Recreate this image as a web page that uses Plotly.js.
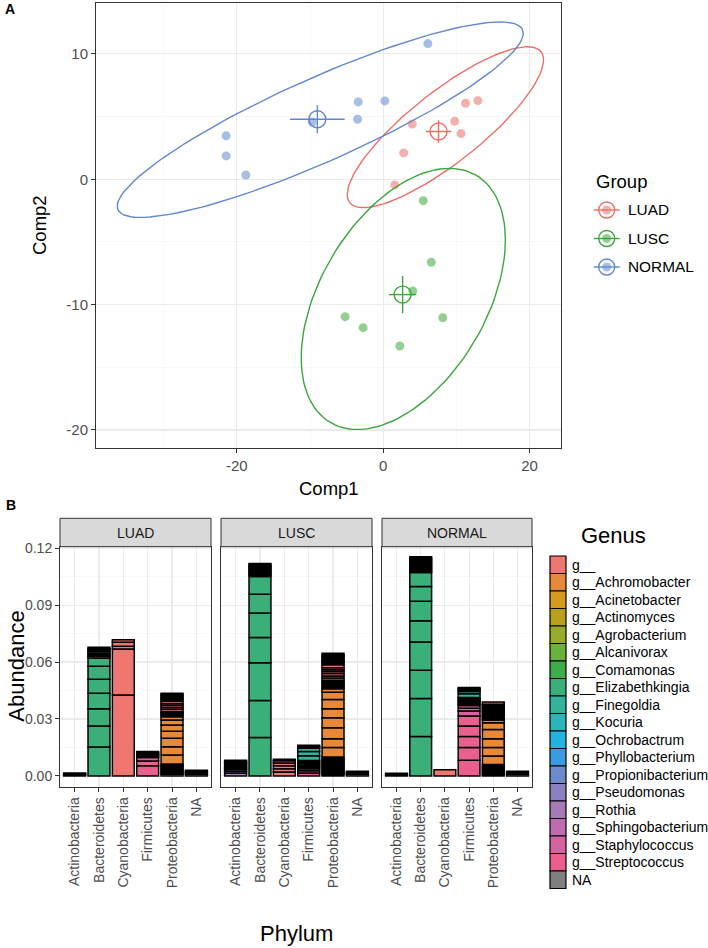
<!DOCTYPE html>
<html><head><meta charset="utf-8">
<script src="https://cdn.plot.ly/plotly-3.0.1.min.js"></script>
<style>html,body{margin:0;padding:0;background:#fff}</style>
</head><body><div id="chart" style="width:708px;height:948px"></div>
<script>
// ---------------- Panel A data ----------------
const groups = ["LUAD", "LUSC", "NORMAL"];
const groupColors = ["#EB6F67", "#3BA73B", "#6089CD"];
const luadComp1 = [11.25, 12.94, 9.77, 10.64, 3.97, 2.8, 1.59];
const luadComp2 = [6.06, 6.27, 4.63, 3.64, 4.41, 2.1, -0.45];
const luscComp1 = [5.47, 6.57, 4.05, -5.2, -2.74, 2.27, 8.15];
const luscComp2 = [-1.71, -6.63, -8.92, -10.96, -11.84, -13.3, -11.05];
const normalComp1 = [-21.46, -21.46, -18.77, -9.7, -3.42, -3.5, 0.22, 6.1];
const normalComp2 = [3.46, 1.86, 0.34, 4.57, 6.17, 4.79, 6.25, 10.82];
// ellipse geometry (centre, x-variance, y-variance, covariance)
const ellCenterX = [8.5, 2.75, -8.6];
const ellCenterY = [4.15, -9.55, 4.75];
const ellVarX = [179.8, 194.6, 770];
const ellVarY = [41.2, 108.5, 60.8];
const ellCovXY = [71.9, 65.6, 191.5];
const compXTicks = [-20, 0, 20];
const compXTickText = ["-20", "0", "20"];
const compYTicks = [-20, -10, 0, 10];
const compYTickText = ["-20", "-10", "0", "10"];

// ---------------- Panel B data ----------------
const facets = ["LUAD", "LUSC", "NORMAL"];
const phyla = ["Actinobacteria", "Bacteroidetes", "Cyanobacteria", "Firmicutes", "Proteobacteria", "NA"];
const genera = ["g__", "g__Achromobacter", "g__Acinetobacter", "g__Actinomyces", "g__Agrobacterium",
  "g__Alcanivorax", "g__Comamonas", "g__Elizabethkingia", "g__Finegoldia", "g__Kocuria",
  "g__Ochrobactrum", "g__Phyllobacterium", "g__Propionibacterium", "g__Pseudomonas", "g__Rothia",
  "g__Sphingobacterium", "g__Staphylococcus", "g__Streptococcus", "NA"];
const genusColors = ["#EE786F", "#E8893A", "#D69A1E", "#BBA01E", "#98AA2A",
  "#6AB23A", "#3EAD48", "#3BAF78", "#33B39C", "#29B5BA",
  "#22B3E0", "#3A9BE0", "#6C8BCB", "#8D80C2", "#A679B9",
  "#BE6CB0", "#D6629F", "#E9608E", "#7F7F7F"];
const abundanceTicks = [0, 0.03, 0.06, 0.09, 0.12];

// segments bottom -> top: [phylum, genus, abundance]
const luadSegments = [
  ["Actinobacteria", "g__Rothia", 0.0006], ["Actinobacteria", "g__Propionibacterium", 0.0005], ["Actinobacteria", "g__Actinomyces", 0.0004],
  ["Bacteroidetes", "g__Elizabethkingia", 0.0152], ["Bacteroidetes", "g__Elizabethkingia", 0.0111], ["Bacteroidetes", "g__Elizabethkingia", 0.0091],
  ["Bacteroidetes", "g__Elizabethkingia", 0.0082], ["Bacteroidetes", "g__Elizabethkingia", 0.0074], ["Bacteroidetes", "g__Elizabethkingia", 0.0068],
  ["Bacteroidetes", "g__Elizabethkingia", 0.0044], ["Bacteroidetes", "g__Elizabethkingia", 0.0009],
  ["Bacteroidetes", "g__Sphingobacterium", 0.0008], ["Bacteroidetes", "g__", 0.0008], ["Bacteroidetes", "g__Elizabethkingia", 0.0008],
  ["Bacteroidetes", "g__Sphingobacterium", 0.0008], ["Bacteroidetes", "NA", 0.0008], ["Bacteroidetes", "g__", 0.0007],
  ["Cyanobacteria", "g__", 0.0426], ["Cyanobacteria", "g__", 0.0243], ["Cyanobacteria", "g__", 0.0014], ["Cyanobacteria", "g__", 0.0021], ["Cyanobacteria", "g__", 0.0013],
  ["Firmicutes", "g__Streptococcus", 0.0053], ["Firmicutes", "g__Streptococcus", 0.0026], ["Firmicutes", "g__Staphylococcus", 0.0018],
  ["Firmicutes", "g__Finegoldia", 0.0008], ["Firmicutes", "g__", 0.0008], ["Firmicutes", "g__Streptococcus", 0.0008], ["Firmicutes", "g__Staphylococcus", 0.0007],
  ["Proteobacteria", "g__Ochrobactrum", 0.0008], ["Proteobacteria", "g__Phyllobacterium", 0.0006],
  ["Proteobacteria", "g__Pseudomonas", 0.0007], ["Proteobacteria", "g__Acinetobacter", 0.0007], ["Proteobacteria", "g__Agrobacterium", 0.0007],
  ["Proteobacteria", "g__Alcanivorax", 0.0007], ["Proteobacteria", "g__Comamonas", 0.0007], ["Proteobacteria", "g__", 0.0007], ["Proteobacteria", "g__Pseudomonas", 0.0007],
  ["Proteobacteria", "g__Achromobacter", 0.0047], ["Proteobacteria", "g__Achromobacter", 0.0044], ["Proteobacteria", "g__Achromobacter", 0.0044],
  ["Proteobacteria", "g__Achromobacter", 0.0037], ["Proteobacteria", "g__Achromobacter", 0.0033], ["Proteobacteria", "g__Achromobacter", 0.0026], ["Proteobacteria", "g__Achromobacter", 0.0018],
  ["Proteobacteria", "g__Pseudomonas", 0.0007], ["Proteobacteria", "g__Acinetobacter", 0.0007], ["Proteobacteria", "g__Comamonas", 0.0007], ["Proteobacteria", "g__Agrobacterium", 0.0007],
  ["Proteobacteria", "g__", 0.0012], ["Proteobacteria", "g__", 0.0010], ["Proteobacteria", "g__", 0.0010], ["Proteobacteria", "g__", 0.0010], ["Proteobacteria", "g__", 0.0012],
  ["Proteobacteria", "g__Pseudomonas", 0.0007], ["Proteobacteria", "g__Acinetobacter", 0.0007], ["Proteobacteria", "g__Ochrobactrum", 0.0007],
  ["Proteobacteria", "g__Comamonas", 0.0007], ["Proteobacteria", "g__Alcanivorax", 0.0007], ["Proteobacteria", "g__Phyllobacterium", 0.0007],
  ["NA", "NA", 0.0008], ["NA", "NA", 0.0008], ["NA", "NA", 0.0007], ["NA", "NA", 0.0007]
];
const luscSegments = [
  ["Actinobacteria", "g__Rothia", 0.0015], ["Actinobacteria", "g__Rothia", 0.0010], ["Actinobacteria", "g__Propionibacterium", 0.0008],
  ["Actinobacteria", "g__Rothia", 0.0007], ["Actinobacteria", "g__Actinomyces", 0.0007], ["Actinobacteria", "g__Actinomyces", 0.0008],
  ["Actinobacteria", "g__Kocuria", 0.0007], ["Actinobacteria", "g__Propionibacterium", 0.0007], ["Actinobacteria", "g__Actinomyces", 0.0007], ["Actinobacteria", "g__Rothia", 0.0006],
  ["Bacteroidetes", "g__Elizabethkingia", 0.0202], ["Bacteroidetes", "g__Elizabethkingia", 0.0196], ["Bacteroidetes", "g__Elizabethkingia", 0.0198],
  ["Bacteroidetes", "g__Elizabethkingia", 0.0134], ["Bacteroidetes", "g__Elizabethkingia", 0.0129], ["Bacteroidetes", "g__Elizabethkingia", 0.0099],
  ["Bacteroidetes", "g__Elizabethkingia", 0.0093], ["Bacteroidetes", "g__Elizabethkingia", 0.0007], ["Bacteroidetes", "g__Elizabethkingia", 0.0007], ["Bacteroidetes", "g__Elizabethkingia", 0.0007],
  ["Bacteroidetes", "g__Sphingobacterium", 0.0008], ["Bacteroidetes", "g__", 0.0008], ["Bacteroidetes", "NA", 0.0008],
  ["Bacteroidetes", "g__Sphingobacterium", 0.0008], ["Bacteroidetes", "g__", 0.0008], ["Bacteroidetes", "g__Elizabethkingia", 0.0007],
  ["Cyanobacteria", "g__", 0.0020], ["Cyanobacteria", "g__", 0.0018], ["Cyanobacteria", "g__", 0.0016], ["Cyanobacteria", "g__", 0.0014], ["Cyanobacteria", "g__", 0.0012], ["Cyanobacteria", "g__", 0.0008],
  ["Firmicutes", "g__Streptococcus", 0.0015], ["Firmicutes", "g__Streptococcus", 0.0012], ["Firmicutes", "g__Staphylococcus", 0.0010], ["Firmicutes", "g__Streptococcus", 0.0008],
  ["Firmicutes", "g__", 0.0007], ["Firmicutes", "g__Staphylococcus", 0.0007], ["Firmicutes", "g__Finegoldia", 0.0007],
  ["Firmicutes", "g__Staphylococcus", 0.0008], ["Firmicutes", "g__", 0.0007],
  ["Firmicutes", "g__Finegoldia", 0.0025], ["Firmicutes", "g__Finegoldia", 0.0022], ["Firmicutes", "g__Finegoldia", 0.0018],
  ["Firmicutes", "g__Streptococcus", 0.0007], ["Firmicutes", "g__Staphylococcus", 0.0008],
  ["Proteobacteria", "g__Pseudomonas", 0.0007], ["Proteobacteria", "g__Acinetobacter", 0.0007], ["Proteobacteria", "g__Ochrobactrum", 0.0008],
  ["Proteobacteria", "g__Pseudomonas", 0.0007], ["Proteobacteria", "g__Comamonas", 0.0007], ["Proteobacteria", "g__Agrobacterium", 0.0007],
  ["Proteobacteria", "g__Alcanivorax", 0.0007], ["Proteobacteria", "g__", 0.0007], ["Proteobacteria", "g__Acinetobacter", 0.0007],
  ["Proteobacteria", "g__Pseudomonas", 0.0007], ["Proteobacteria", "g__Phyllobacterium", 0.0007], ["Proteobacteria", "g__Comamonas", 0.0007],
  ["Proteobacteria", "g__Pseudomonas", 0.0007], ["Proteobacteria", "g__Acinetobacter", 0.0007],
  ["Proteobacteria", "g__Achromobacter", 0.0050], ["Proteobacteria", "g__Achromobacter", 0.0047], ["Proteobacteria", "g__Achromobacter", 0.0058],
  ["Proteobacteria", "g__Achromobacter", 0.0053], ["Proteobacteria", "g__Achromobacter", 0.0047], ["Proteobacteria", "g__Achromobacter", 0.0049],
  ["Proteobacteria", "g__Achromobacter", 0.0038], ["Proteobacteria", "g__Achromobacter", 0.0018],
  ["Proteobacteria", "g__Pseudomonas", 0.00075], ["Proteobacteria", "g__Acinetobacter", 0.00075], ["Proteobacteria", "g__Comamonas", 0.00075],
  ["Proteobacteria", "g__Agrobacterium", 0.00075], ["Proteobacteria", "g__Alcanivorax", 0.00075], ["Proteobacteria", "g__Phyllobacterium", 0.00075],
  ["Proteobacteria", "g__", 0.0012], ["Proteobacteria", "g__", 0.0010], ["Proteobacteria", "g__", 0.0014], ["Proteobacteria", "g__", 0.0010],
  ["Proteobacteria", "g__", 0.0010], ["Proteobacteria", "g__", 0.0010], ["Proteobacteria", "g__", 0.0016],
  ["Proteobacteria", "g__Pseudomonas", 0.00075], ["Proteobacteria", "g__Acinetobacter", 0.00075], ["Proteobacteria", "g__Ochrobactrum", 0.00075],
  ["Proteobacteria", "g__Comamonas", 0.00075], ["Proteobacteria", "g__Agrobacterium", 0.00075], ["Proteobacteria", "g__Pseudomonas", 0.00075],
  ["Proteobacteria", "g__Alcanivorax", 0.00075], ["Proteobacteria", "g__Acinetobacter", 0.00075],
  ["NA", "NA", 0.0008], ["NA", "NA", 0.0008], ["NA", "NA", 0.0009]
];
const normalSegments = [
  ["Actinobacteria", "g__Rothia", 0.0007], ["Actinobacteria", "g__Propionibacterium", 0.0007],
  ["Bacteroidetes", "g__Elizabethkingia", 0.0207], ["Bacteroidetes", "g__Elizabethkingia", 0.0201], ["Bacteroidetes", "g__Elizabethkingia", 0.0149],
  ["Bacteroidetes", "g__Elizabethkingia", 0.0149], ["Bacteroidetes", "g__Elizabethkingia", 0.0112], ["Bacteroidetes", "g__Elizabethkingia", 0.0102],
  ["Bacteroidetes", "g__Elizabethkingia", 0.0078], ["Bacteroidetes", "g__Elizabethkingia", 0.0074],
  ["Bacteroidetes", "g__Elizabethkingia", 0.0007], ["Bacteroidetes", "g__Elizabethkingia", 0.0007], ["Bacteroidetes", "g__Elizabethkingia", 0.0007],
  ["Bacteroidetes", "g__Elizabethkingia", 0.0007], ["Bacteroidetes", "g__Elizabethkingia", 0.0007],
  ["Bacteroidetes", "g__Sphingobacterium", 0.0008], ["Bacteroidetes", "g__", 0.0008], ["Bacteroidetes", "NA", 0.0008],
  ["Bacteroidetes", "g__Sphingobacterium", 0.0008], ["Bacteroidetes", "g__", 0.0008], ["Bacteroidetes", "g__Elizabethkingia", 0.0008],
  ["Cyanobacteria", "g__", 0.0032],
  ["Firmicutes", "g__Streptococcus", 0.0082], ["Firmicutes", "g__Streptococcus", 0.0067], ["Firmicutes", "g__Streptococcus", 0.0058],
  ["Firmicutes", "g__Streptococcus", 0.0056], ["Firmicutes", "g__Streptococcus", 0.0052], ["Firmicutes", "g__Staphylococcus", 0.0027],
  ["Firmicutes", "g__Streptococcus", 0.0015], ["Firmicutes", "g__Staphylococcus", 0.0014],
  ["Firmicutes", "g__", 0.0007], ["Firmicutes", "g__Streptococcus", 0.0007], ["Firmicutes", "g__Staphylococcus", 0.0007],
  ["Firmicutes", "g__Finegoldia", 0.0007], ["Firmicutes", "g__", 0.0007], ["Firmicutes", "g__Streptococcus", 0.0007],
  ["Firmicutes", "g__Finegoldia", 0.0020], ["Firmicutes", "g__Finegoldia", 0.0012],
  ["Firmicutes", "g__", 0.0007], ["Firmicutes", "g__Finegoldia", 0.0007], ["Firmicutes", "g__Staphylococcus", 0.0007],
  ["Proteobacteria", "g__Pseudomonas", 0.00075], ["Proteobacteria", "g__Acinetobacter", 0.00075], ["Proteobacteria", "g__Ochrobactrum", 0.00075],
  ["Proteobacteria", "g__Comamonas", 0.00075], ["Proteobacteria", "g__Agrobacterium", 0.00075], ["Proteobacteria", "g__Pseudomonas", 0.00075],
  ["Proteobacteria", "g__Alcanivorax", 0.00075], ["Proteobacteria", "g__Phyllobacterium", 0.00075],
  ["Proteobacteria", "g__Achromobacter", 0.0045], ["Proteobacteria", "g__Achromobacter", 0.0044], ["Proteobacteria", "g__Achromobacter", 0.0047],
  ["Proteobacteria", "g__Achromobacter", 0.0049], ["Proteobacteria", "g__Achromobacter", 0.0035], ["Proteobacteria", "g__Achromobacter", 0.0014],
  ["Proteobacteria", "g__Pseudomonas", 0.0007], ["Proteobacteria", "g__Acinetobacter", 0.0007], ["Proteobacteria", "g__Comamonas", 0.0007],
  ["Proteobacteria", "g__Agrobacterium", 0.0007], ["Proteobacteria", "g__Alcanivorax", 0.0007], ["Proteobacteria", "g__Phyllobacterium", 0.0007],
  ["Proteobacteria", "g__", 0.0007], ["Proteobacteria", "g__Pseudomonas", 0.0007], ["Proteobacteria", "g__Ochrobactrum", 0.0007],
  ["Proteobacteria", "g__Acinetobacter", 0.0007], ["Proteobacteria", "g__Comamonas", 0.0007], ["Proteobacteria", "g__Pseudomonas", 0.0007],
  ["Proteobacteria", "g__", 0.0011],
  ["NA", "NA", 0.0008], ["NA", "NA", 0.0008], ["NA", "NA", 0.0009]
];

// ---------------- helpers (pixel -> paper) ----------------
const W = 708, H = 948;
const px = x => x / W;
const py = y => 1 - y / H;
const FONT = "Liberation Sans, Arial, Helvetica, sans-serif";

const mean = a => a.reduce((s, v) => s + v, 0) / a.length;
const se = a => { const m = mean(a); return Math.sqrt(a.reduce((s, v) => s + (v - m) * (v - m), 0) / (a.length - 1)) / Math.sqrt(a.length); };

const compX = [luadComp1, luscComp1, normalComp1];
const compY = [luadComp2, luscComp2, normalComp2];

const traces = [];
groups.forEach((g, i) => {
  const L11 = Math.sqrt(ellVarX[i]), L21 = ellCovXY[i] / L11, L22 = Math.sqrt(ellVarY[i] - L21 * L21);
  const ex = [], ey = [];
  for (let k = 0; k <= 120; k++) {
    const t = 2 * Math.PI * k / 120;
    ex.push(ellCenterX[i] + L11 * Math.cos(t));
    ey.push(ellCenterY[i] + L21 * Math.cos(t) + L22 * Math.sin(t));
  }
  traces.push({type: "scatter", mode: "lines", x: ex, y: ey, line: {color: groupColors[i], width: 1.4}, showlegend: false, hoverinfo: "skip", xaxis: "x", yaxis: "y"});
  traces.push({type: "scatter", mode: "markers", x: compX[i], y: compY[i], name: g,
    marker: {color: groupColors[i], size: 9, opacity: 0.55}, showlegend: false, xaxis: "x", yaxis: "y"});
  const mx = mean(compX[i]), my = mean(compY[i]), sx = se(compX[i]), sy = se(compY[i]);
  traces.push({type: "scatter", mode: "lines", x: [mx - sx, mx + sx, null, mx, mx], y: [my, my, null, my - sy, my + sy],
    line: {color: groupColors[i], width: 1.4}, showlegend: false, hoverinfo: "skip", xaxis: "x", yaxis: "y"});
  traces.push({type: "scatter", mode: "markers", x: [mx], y: [my],
    marker: {symbol: "circle-open", size: 17, color: groupColors[i], line: {width: 1.4}}, showlegend: false, hoverinfo: "skip", xaxis: "x", yaxis: "y"});
});

const facetSegments = [luadSegments, luscSegments, normalSegments];
facetSegments.forEach((segs, f) => {
  const cum = {}, xs = [], ys = [], bases = [], cols = [], txt = [];
  segs.forEach(([p, g, v]) => {
    const b = cum[p] || 0;
    xs.push(p); ys.push(v); bases.push(b); cum[p] = b + v;
    cols.push(genusColors[genera.indexOf(g)]); txt.push(g);
  });
  traces.push({type: "bar", x: xs, y: ys, base: bases, width: 0.9, text: txt, textposition: "none",
    marker: {color: cols, line: {color: "#000000", width: 1.5}},
    xaxis: "x" + (f + 2), yaxis: "y" + (f + 2), showlegend: false, hovertemplate: "%{x}<br>%{text}: %{y}<extra></extra>"});
});

// ---------------- axes ----------------
const frame = {showline: true, mirror: true, linecolor: "#333333", linewidth: 1, zeroline: false,
  ticks: "outside", ticklen: 4, tickcolor: "#333333", tickwidth: 1,
  gridcolor: "#EBEBEB", gridwidth: 1.1, showgrid: true};
const layout = {
  width: W, height: H, autosize: false, margin: {l: 0, r: 0, t: 0, b: 0},
  paper_bgcolor: "#ffffff", plot_bgcolor: "#ffffff", barmode: "overlay", showlegend: false,
  font: {family: FONT, color: "#000000"},
  xaxis: Object.assign({}, frame, {domain: [px(96), px(561)], range: [-39.25, 24.3], tickvals: compXTicks, ticktext: compXTickText,
    tickfont: {size: 15, color: "#4D4D4D"}, anchor: "y",
    minor: {tickvals: [-30, -10, 10], showgrid: true, gridcolor: "#F4F4F4", gridwidth: 0.6, ticks: ""}}),
  yaxis: Object.assign({}, frame, {domain: [py(448), py(2.5)], range: [-21.44, 14.1], tickvals: compYTicks, ticktext: compYTickText,
    tickfont: {size: 15, color: "#4D4D4D"}, anchor: "x",
    minor: {tickvals: [-15, -5, 5], showgrid: true, gridcolor: "#F4F4F4", gridwidth: 0.6, ticks: ""}}),
  annotations: [], shapes: []
};
const facetX = [[60, 211], [221, 372], [382, 532]];
const plotTopB = 546.7, plotBotB = 786.7, stripTop = 518.3;
facets.forEach((f, i) => {
  layout["xaxis" + (i + 2)] = Object.assign({}, frame, {domain: [px(facetX[i][0]), px(facetX[i][1])], type: "category",
    categoryorder: "array", categoryarray: phyla, range: [-0.6, 5.6], tickangle: -90,
    tickfont: {size: 14, color: "#4D4D4D"}, anchor: "y" + (i + 2)});
  layout["yaxis" + (i + 2)] = Object.assign({}, frame, {domain: [py(plotBotB), py(plotTopB)], range: [-0.0057, 0.1208],
    tickvals: abundanceTicks, tickformat: ".2f", tickfont: {size: 14, color: "#4D4D4D"}, anchor: "x" + (i + 2),
    showticklabels: i === 0, ticks: i === 0 ? "outside" : "",
    minor: {tickvals: [0.015, 0.045, 0.075, 0.105], showgrid: true, gridcolor: "#F4F4F4", gridwidth: 0.6, ticks: ""}});
  layout.shapes.push({type: "rect", xref: "paper", yref: "paper", x0: px(facetX[i][0]), x1: px(facetX[i][1]),
    y0: py(plotTopB), y1: py(stripTop), fillcolor: "#D9D9D9", line: {color: "#333333", width: 1}});
  layout.annotations.push({xref: "paper", yref: "paper", x: px((facetX[i][0] + facetX[i][1]) / 2), y: py((stripTop + plotTopB) / 2),
    text: f, showarrow: false, font: {size: 14, color: "#1A1A1A"}, xanchor: "center", yanchor: "middle"});
});

function label(text, x, y, size, opts) {
  layout.annotations.push(Object.assign({xref: "paper", yref: "paper", x: px(x), y: py(y), text: text, showarrow: false,
    font: {size: size, color: "#000000", family: FONT}, xanchor: "center", yanchor: "middle"}, opts || {}));
}
label("<b>A</b>", 3, 9, 14, {xanchor: "left"});
label("<b>B</b>", 4, 505, 14, {xanchor: "left"});
label("Comp1", 328.5, 488, 18.5);
label("Comp2", 40, 225, 18.5, {textangle: -90});
label("Abundance", 17, 666.7, 22, {textangle: -90});
label("Phylum", 296, 933, 22);
label("Genus", 579, 535, 22, {xanchor: "left"});

// Group legend (panel A)
label("Group", 594, 181, 18.5, {xanchor: "left"});
const grpY = [210, 238.5, 267];
groups.forEach((g, i) => {
  const cx = 606.7, cy = grpY[i];
  layout.shapes.push({type: "line", xref: "paper", yref: "paper", x0: px(cx - 13), x1: px(cx + 13), y0: py(cy), y1: py(cy),
    line: {color: groupColors[i], width: 1.4}});
  layout.shapes.push({type: "circle", xref: "paper", yref: "paper", x0: px(cx - 4.5), x1: px(cx + 4.5), y0: py(cy + 4.5), y1: py(cy - 4.5),
    fillcolor: groupColors[i], opacity: 0.55, line: {width: 0}});
  layout.shapes.push({type: "circle", xref: "paper", yref: "paper", x0: px(cx - 8), x1: px(cx + 8), y0: py(cy + 8), y1: py(cy - 8),
    line: {color: groupColors[i], width: 1.4}});
  label(g, 626, cy, 15.4, {xanchor: "left"});
});

// Genus legend (panel B)
const keyTop = 556, keyH = 17.5;
genera.forEach((g, i) => {
  const y0 = keyTop + i * keyH;
  layout.shapes.push({type: "rect", xref: "paper", yref: "paper", x0: px(550), x1: px(566), y0: py(y0 + keyH), y1: py(y0),
    fillcolor: genusColors[i], line: {color: "#000000", width: 1.2}});
  label(g, 569.5, y0 + keyH / 2, 14, {xanchor: "left"});
});

Plotly.newPlot("chart", traces, layout, {displayModeBar: false, staticPlot: true});
</script></body></html>
